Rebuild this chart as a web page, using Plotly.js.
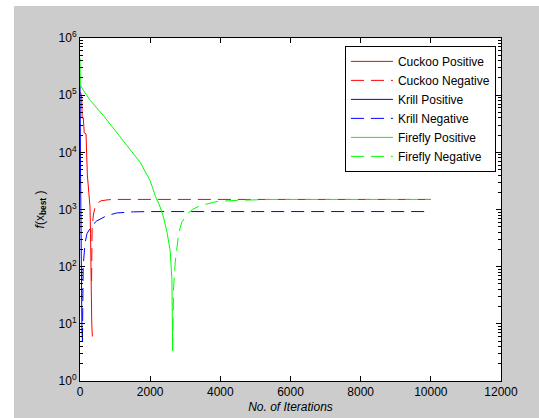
<!DOCTYPE html>
<html>
<head>
<meta charset="utf-8">
<script src="https://cdn.plot.ly/plotly-3.0.1.min.js"></script>
<style>
html,body{margin:0;padding:0;background:#ffffff;}
#chart{position:absolute;left:14px;top:6px;width:525px;height:412px;}
</style>
</head>
<body>
<div id="chart"></div>
<script>
// Series data
var cuckooPosX = [0, 20, 50, 60, 95, 120, 171, 200, 210, 250, 286, 300, 320, 335, 352];
var cuckooPosY = [1.1e5, 1.1e5, 9e4, 4e4, 4e4, 2.2e4, 2.1e4, 5e3, 4e3, 2e3, 1.1e3, 380, 25, 10, 6];

var cuckooNegX = [330, 335, 345, 380, 430, 500, 600, 800, 1000, 1500, 3000, 6000, 10000];
var cuckooNegY = [56, 150, 450, 800, 1100, 1300, 1420, 1480, 1500, 1500, 1500, 1500, 1500];

var krillPosX = [0, 5, 10, 15, 20, 25, 30, 40, 55, 70];
var krillPosY = [1.5e5, 1e5, 2e4, 5e3, 1e3, 300, 60, 20, 8, 5];

var krillNegX = [70, 90, 143, 200, 334, 476, 762, 952, 1048, 1524, 2000, 5000, 10000];
var krillNegY = [5, 100, 260, 380, 520, 630, 780, 830, 870, 910, 920, 920, 920];

var fireflyPosX = [0, 10, 100, 300, 666, 1143, 1714, 2000, 2150, 2286, 2381, 2480, 2571, 2620, 2640];
var fireflyPosY = [4.5e5, 1.5e5, 1.2e5, 8e4, 4.4e4, 1.9e4, 6.7e3, 3.2e3, 1.7e3, 1.1e3, 730, 400, 190, 60, 3.4];

var fireflyNegX = [2640, 2667, 2714, 2810, 2900, 3048, 3200, 3429, 3905, 4500, 5500, 10000];
var fireflyNegY = [3.4, 43, 120, 370, 600, 830, 1000, 1170, 1380, 1450, 1500, 1500];

var seriesNames = ["Cuckoo Positive", "Cuckoo Negative", "Krill Positive", "Krill Negative", "Firefly Positive", "Firefly Negative"];

// Tick labels
var xTickVals = [0, 2000, 4000, 6000, 8000, 10000, 12000];
var xTickText = ["0", "2000", "4000", "6000", "8000", "10000", "12000"];
var yTickVals = [1, 10, 100, 1000, 10000, 100000, 1000000];
var yTickText = ["10<sup>0</sup>", "10<sup>1</sup>", "10<sup>2</sup>", "10<sup>3</sup>", "10<sup>4</sup>", "10<sup>5</sup>", "10<sup>6</sup>"];

var minorY = [];
for (var d = 0; d < 6; d++) {
  for (var m = 2; m <= 9; m++) minorY.push(m * Math.pow(10, d));
}

var DASH = "13px,7px";
function tr(x, y, name, color, dash) {
  return {
    x: x, y: y, name: name, type: "scatter", mode: "lines",
    line: {color: color, width: 1, dash: dash}
  };
}

var data = [
  tr(cuckooPosX, cuckooPosY, seriesNames[0], "#ff0000", "solid"),
  tr(cuckooNegX, cuckooNegY, seriesNames[1], "#ff0000", DASH),
  tr(krillPosX, krillPosY, seriesNames[2], "#0000ff", "solid"),
  tr(krillNegX, krillNegY, seriesNames[3], "#0000ff", DASH),
  tr(fireflyPosX, fireflyPosY, seriesNames[4], "#00ff00", "solid"),
  tr(fireflyNegX, fireflyNegY, seriesNames[5], "#00ff00", DASH)
];

var layout = {
  width: 525, height: 412,
  margin: {l: 66, r: 38, t: 32, b: 37},
  paper_bgcolor: "#cccccc",
  plot_bgcolor: "#ffffff",
  font: {family: "Arial, 'Liberation Sans', sans-serif", size: 12, color: "#000000"},
  showlegend: true,
  legend: {
    x: 0.988, y: 0.977, xanchor: "right", yanchor: "top",
    bgcolor: "#ffffff", bordercolor: "#000000", borderwidth: 1,
    font: {size: 12, color: "#000000"},
    itemwidth: 42,
    tracegroupgap: 0
  },
  xaxis: {
    range: [0, 12000],
    tickmode: "array", tickvals: xTickVals, ticktext: xTickText,
    ticks: "inside", ticklen: 5, tickcolor: "#000000",
    showline: true, linecolor: "#000000", linewidth: 1, mirror: "ticks",
    showgrid: false, zeroline: false,
    tickfont: {size: 12},
    title: {text: "No. of Iterations", font: {size: 12, style: "italic"}, standoff: 4}
  },
  yaxis: {
    type: "log", range: [0, 6],
    tickmode: "array", tickvals: yTickVals, ticktext: yTickText,
    ticks: "inside", ticklen: 5, tickcolor: "#000000",
    showline: true, linecolor: "#000000", linewidth: 1, mirror: "ticks",
    showgrid: false, zeroline: false,
    tickfont: {size: 12},
    minor: {tickmode: "array", tickvals: minorY, ticks: "inside", ticklen: 3, tickcolor: "#000000", showgrid: false},
    title: {text: "<i>f</i>(x<sub><b>best</b></sub> )", font: {size: 12}, standoff: 11}
  }
};

Plotly.newPlot("chart", data, layout, {displayModeBar: false, staticPlot: true});
</script>
</body>
</html>
